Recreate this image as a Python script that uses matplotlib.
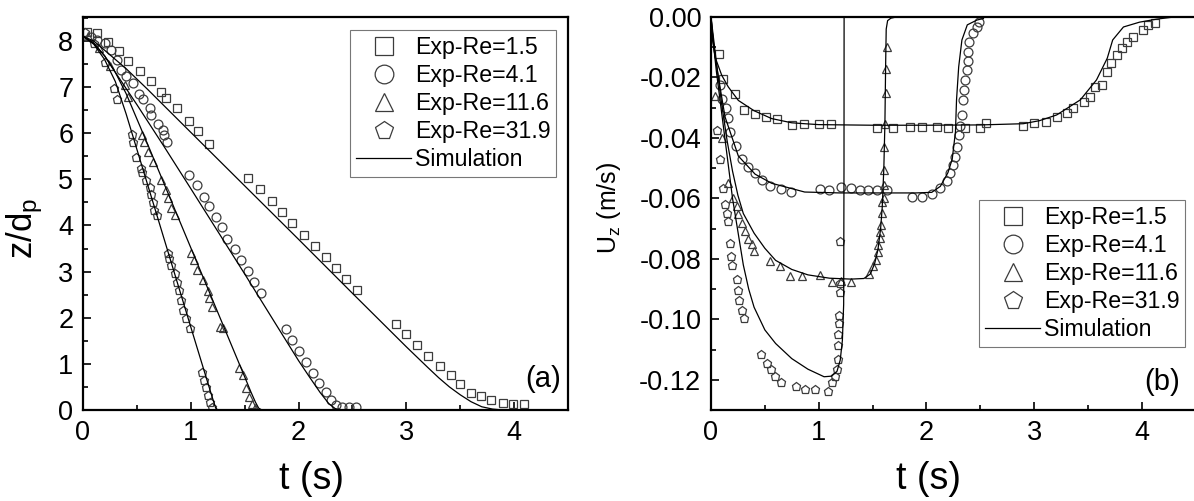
import matplotlib
matplotlib.use("Agg")
import matplotlib.pyplot as plt
from matplotlib.ticker import MultipleLocator

plt.rcParams['font.family'] = ['Liberation Sans', 'DejaVu Sans']
plt.rcParams['mathtext.fontset'] = 'custom'
plt.rcParams['mathtext.rm'] = 'Liberation Sans'
plt.rcParams['mathtext.it'] = 'Liberation Sans:italic'

labels = ["Exp-Re=1.5", "Exp-Re=4.1", "Exp-Re=11.6", "Exp-Re=31.9"]
sim_label = "Simulation"

# ---------- panel (a): z/dp vs t ----------
sq_t = [0.04,0.13,0.23,0.33,0.42,0.53,0.63,0.72,0.77,0.87,0.98,1.07,1.17,1.53,1.64,1.75,1.85,1.94,2.05,2.15,2.25,2.35,2.44,2.54,2.90,3.00,3.10,3.20,3.31,3.41,3.50,3.60,3.69,3.79,3.90,3.99,4.09]
sq_z = [8.20,8.18,7.98,7.79,7.57,7.35,7.14,6.90,6.77,6.55,6.27,6.05,5.77,5.03,4.79,4.53,4.30,4.06,3.80,3.56,3.32,3.08,2.84,2.60,1.87,1.65,1.41,1.17,0.95,0.76,0.56,0.37,0.30,0.22,0.15,0.13,0.13]

ci_t = [0.07,0.13,0.20,0.26,0.32,0.35,0.40,0.46,0.52,0.56,0.62,0.63,0.70,0.74,0.75,0.78,0.98,1.06,1.12,1.17,1.23,1.29,1.34,1.41,1.47,1.53,1.59,1.65,1.88,1.94,2.00,2.07,2.13,2.19,2.25,2.30,2.35,2.40,2.47,2.53]
ci_z = [8.08,8.03,7.96,7.80,7.59,7.37,7.24,7.08,6.86,6.75,6.54,6.39,6.20,6.07,5.96,5.81,5.09,4.87,4.62,4.42,4.19,3.96,3.70,3.48,3.25,3.02,2.78,2.54,1.75,1.52,1.27,1.03,0.81,0.58,0.38,0.22,0.11,0.07,0.07,0.07]

tr_t = [0.05,0.15,0.25,0.39,0.42,0.55,0.57,0.60,0.65,0.72,0.77,0.79,0.82,0.85,1.00,1.03,1.06,1.11,1.16,1.17,1.20,1.27,1.30,1.45,1.48,1.51,1.54,1.57,1.60]
tr_z = [8.10,7.85,7.45,7.05,6.79,5.96,5.81,5.60,5.38,4.98,4.77,4.59,4.37,4.22,3.40,3.25,3.04,2.82,2.57,2.42,2.24,1.81,1.77,0.90,0.76,0.47,0.29,0.14,0.04]

pe_t = [0.02,0.10,0.20,0.29,0.32,0.45,0.46,0.49,0.54,0.55,0.58,0.62,0.63,0.65,0.66,0.69,0.79,0.80,0.82,0.85,0.87,0.89,0.91,0.93,0.96,0.99,1.10,1.12,1.14,1.16,1.18,1.20]
pe_z = [8.20,7.95,7.55,6.97,6.75,5.99,5.81,5.49,5.24,5.16,4.98,4.84,4.69,4.51,4.33,4.22,3.40,3.29,3.15,2.96,2.78,2.60,2.39,2.17,1.99,1.77,0.83,0.65,0.50,0.32,0.18,0.06]

sim_sq_t = [0.0,0.1,0.2,0.4,0.6,1.0,1.5,2.0,2.5,3.0,3.2,3.3,3.4,3.5,3.6,3.7,3.8,3.9,4.1]
sim_sq_z = [8.1,8.0,7.8,7.4,6.95,6.02,4.86,3.70,2.53,1.37,0.92,0.70,0.50,0.33,0.18,0.07,0.02,0.0,0.0]
sim_ci_t = [0.0,0.1,0.2,0.3,0.5,0.75,1.0,1.5,1.8,2.0,2.1,2.2,2.28,2.34,2.4]
sim_ci_z = [8.1,7.95,7.68,7.32,6.62,5.72,4.80,2.95,1.82,1.07,0.72,0.38,0.14,0.03,0.0]
sim_tr_t = [0.0,0.1,0.2,0.3,0.4,0.6,0.88,1.2,1.4,1.5,1.56,1.6,1.63,1.66]
sim_tr_z = [8.1,7.95,7.68,7.32,6.86,5.76,4.19,2.40,1.28,0.72,0.38,0.17,0.04,0.0]
sim_pe_t = [0.0,0.1,0.2,0.3,0.4,0.69,1.0,1.15,1.2,1.23,1.25]
sim_pe_z = [8.1,7.93,7.6,7.12,6.42,4.19,1.80,0.65,0.27,0.05,0.0]

# ---------- panel (b): Uz vs t ----------
squ_t = [0.07,0.11,0.22,0.31,0.41,0.51,0.61,0.75,0.86,1.00,1.11,1.54,1.69,1.85,1.96,2.10,2.20,2.36,2.50,2.55,2.90,3.00,3.11,3.21,3.31,3.36,3.46,3.52,3.57,3.63,3.68,3.71,3.77,3.82,3.86,3.92,4.01,4.06,4.12]
squ_u = [-0.0121,-0.0204,-0.0256,-0.0306,-0.0320,-0.0330,-0.0336,-0.0356,-0.0355,-0.0353,-0.0355,-0.0367,-0.0367,-0.0363,-0.0363,-0.0363,-0.0367,-0.0367,-0.0367,-0.0350,-0.0360,-0.0350,-0.0347,-0.0331,-0.0317,-0.0301,-0.0281,-0.0264,-0.0231,-0.0225,-0.0182,-0.0152,-0.0126,-0.0103,-0.0083,-0.0066,-0.0043,-0.0026,-0.0020]

ciu_t = [0.08,0.10,0.14,0.16,0.18,0.23,0.29,0.34,0.41,0.47,0.55,0.65,0.74,1.01,1.10,1.21,1.30,1.38,1.46,1.54,1.63,1.87,1.96,2.05,2.13,2.19,2.22,2.25,2.27,2.28,2.30,2.31,2.33,2.34,2.35,2.36,2.38,2.39,2.39,2.40,2.43,2.47,2.49]
ciu_u = [-0.0225,-0.0270,-0.0300,-0.0334,-0.0380,-0.0426,-0.0470,-0.0496,-0.0516,-0.0540,-0.0559,-0.0569,-0.0579,-0.0569,-0.0572,-0.0562,-0.0565,-0.0572,-0.0572,-0.0572,-0.0572,-0.0595,-0.0595,-0.0585,-0.0565,-0.0542,-0.0516,-0.0490,-0.0463,-0.0430,-0.0390,-0.0360,-0.0324,-0.0274,-0.0240,-0.0208,-0.0175,-0.0145,-0.0116,-0.0083,-0.0053,-0.0033,-0.0017]

tru_t = [0.04,0.10,0.16,0.207,0.238,0.254,0.285,0.316,0.34,0.378,0.402,0.548,0.64,0.734,0.842,1.012,1.12,1.207,1.30,1.467,1.507,1.529,1.547,1.553,1.569,1.572,1.578,1.584,1.588,1.604,1.606,1.606,1.606,1.616,1.622,1.622,1.631]
tru_u = [-0.0260,-0.0400,-0.0550,-0.0600,-0.0624,-0.0652,-0.0680,-0.0708,-0.0736,-0.0752,-0.0774,-0.0808,-0.0824,-0.0856,-0.0858,-0.0852,-0.0878,-0.0874,-0.0878,-0.0849,-0.0825,-0.0803,-0.0779,-0.0754,-0.0732,-0.0710,-0.0688,-0.0649,-0.0611,-0.0600,-0.0555,-0.0507,-0.0430,-0.0353,-0.0253,-0.0171,-0.0099]

peu_t = [0.06,0.08,0.11,0.13,0.145,0.161,0.176,0.186,0.198,0.238,0.247,0.26,0.285,0.31,0.464,0.517,0.557,0.594,0.65,0.786,0.873,0.966,1.09,1.127,1.151,1.167,1.176,1.176,1.182,1.188,1.191,1.198,1.20,1.20]
peu_u = [-0.0375,-0.0470,-0.0565,-0.0619,-0.0647,-0.0674,-0.0747,-0.0791,-0.0819,-0.0867,-0.0904,-0.0936,-0.0969,-0.0997,-0.1116,-0.1143,-0.1163,-0.1188,-0.1208,-0.1219,-0.1230,-0.1230,-0.1236,-0.1208,-0.1186,-0.1163,-0.1130,-0.1086,-0.1047,-0.1013,-0.0986,-0.0911,-0.0880,-0.0741]

simu_sq_t = [0.0,0.01,0.037,0.1,0.16,0.254,0.4,0.563,0.75,0.87,1.0,1.5,2.0,2.5,2.9,3.05,3.21,3.43,3.58,3.68,3.73,3.83,3.98,4.14,4.3]
simu_sq_u = [0.0,-0.004,-0.0132,-0.0193,-0.0231,-0.0276,-0.031,-0.0336,-0.035,-0.0353,-0.0356,-0.0358,-0.0358,-0.0357,-0.0353,-0.0343,-0.0324,-0.0274,-0.0208,-0.0136,-0.0076,-0.0033,-0.0017,-0.0007,0.0]
simu_ci_t = [0.0,0.005,0.068,0.13,0.254,0.41,0.563,0.87,1.2,1.9,2.05,2.13,2.2,2.24,2.27,2.28,2.30,2.33,2.38,2.47,2.53]
simu_ci_u = [0.0,-0.0055,-0.0198,-0.033,-0.046,-0.052,-0.055,-0.0579,-0.0582,-0.0582,-0.058,-0.056,-0.0515,-0.047,-0.038,-0.0274,-0.0165,-0.0076,-0.0026,-0.001,-0.0005]
simu_tr_t = [0.0,0.05,0.1,0.15,0.2,0.25,0.3,0.4,0.5,0.6,0.75,0.9,1.1,1.3,1.42,1.48,1.52,1.55,1.575,1.59,1.605,1.615,1.622,1.627,1.64,1.67,1.72]
simu_tr_u = [0.0,-0.015,-0.029,-0.041,-0.051,-0.059,-0.065,-0.0715,-0.0765,-0.0805,-0.0835,-0.0853,-0.0864,-0.0867,-0.0865,-0.085,-0.0815,-0.077,-0.070,-0.063,-0.050,-0.035,-0.015,-0.004,-0.0012,-0.0004,0.0]
simu_pe_t = [0.0,0.02,0.05,0.1,0.15,0.2,0.25,0.3,0.35,0.4,0.5,0.6,0.75,0.9,1.05,1.12,1.17,1.2,1.22,1.232,1.235,1.236]
simu_pe_u = [0.0,-0.008,-0.018,-0.032,-0.046,-0.06,-0.071,-0.082,-0.09,-0.096,-0.1035,-0.108,-0.113,-0.1165,-0.119,-0.1188,-0.1172,-0.1135,-0.107,-0.095,-0.05,0.0]

markers = ['s', 'o', '^', 'p']
mk_kw = dict(linestyle='none', mfc='none', mec='#3c3c3c', ms=6.4, mew=0.9)
line_kw = dict(color='black', lw=0.9)

fig = plt.figure(figsize=(11.94, 5.01), dpi=100)
axA = fig.add_axes([83/1194, 91/501, 485/1194, 393/501])
axB = fig.add_axes([711/1194, 91/501, 484.6/1194, 393/501])

def style(ax):
    for s in ax.spines.values():
        s.set_linewidth(1.6)
    ax.tick_params(which='both', direction='in', top=False, right=False, labelsize=19.5, width=1.2)
    ax.tick_params(which='major', length=6, pad=7)
    ax.tick_params(which='minor', length=3.5)
    ax.xaxis.set_major_locator(MultipleLocator(1))
    ax.xaxis.set_minor_locator(MultipleLocator(0.5))
    ax.set_xlim(0, 4.5)

# panel a
expA = [(sq_t, sq_z), (ci_t, ci_z), (tr_t, tr_z), (pe_t, pe_z)]
simA = [(sim_sq_t, sim_sq_z), (sim_ci_t, sim_ci_z), (sim_tr_t, sim_tr_z), (sim_pe_t, sim_pe_z)]
for (tx, zy), m, lab in zip(expA, markers, labels):
    axA.plot(tx, zy, marker=m, label=lab, **mk_kw)
for i, (tx, zy) in enumerate(simA):
    axA.plot(tx, zy, label=sim_label if i == 0 else None, **line_kw)
style(axA)
axA.set_ylim(0, 8.52)
axA.yaxis.set_major_locator(MultipleLocator(1))
axA.yaxis.set_minor_locator(MultipleLocator(0.5))
axA.set_xlabel('t (s)', fontsize=27)
axA.xaxis.set_label_coords(0.471, -0.13, transform=axA.transAxes)
axA.set_ylabel(r'z/d$_{\rm p}$', fontsize=25)
axA.yaxis.set_label_coords(-0.078, 0.463)
axA.text(0.985, 0.08, '(a)', transform=axA.transAxes, fontsize=21, ha='right', va='center')

# panel b
expB = [(squ_t, squ_u), (ciu_t, ciu_u), (tru_t, tru_u), (peu_t, peu_u)]
simB = [(simu_sq_t, simu_sq_u), (simu_ci_t, simu_ci_u), (simu_tr_t, simu_tr_u), (simu_pe_t, simu_pe_u)]
for (tx, uy), m, lab in zip(expB, markers, labels):
    axB.plot(tx, uy, marker=m, label=lab, **mk_kw)
for i, (tx, uy) in enumerate(simB):
    axB.plot(tx, uy, label=sim_label if i == 0 else None, **line_kw)
style(axB)
axB.set_ylim(-0.13, 0.0)
axB.yaxis.set_major_locator(MultipleLocator(0.02))
axB.yaxis.set_minor_locator(MultipleLocator(0.01))
axB.yaxis.set_major_formatter(matplotlib.ticker.FormatStrFormatter('%.2f'))
axB.set_xlabel('t (s)', fontsize=27)
axB.xaxis.set_label_coords(0.448, -0.13, transform=axB.transAxes)
axB.set_ylabel(r'U$_{\rm z}$ (m/s)', fontsize=18)
axB.yaxis.set_label_coords(-0.182, 0.515)
axB.text((1180-711)/484.6, (410-382)/393, '(b)', transform=axB.transAxes, fontsize=21, ha='right', va='center')

leg_kw = dict(fontsize=16.7, markerscale=2.1, handlelength=2.4, handletextpad=0.15,
              borderpad=0.25, labelspacing=0.22, frameon=True, fancybox=False,
              edgecolor='#555555', borderaxespad=0)
legA = axA.legend(loc='upper left', bbox_to_anchor=(350/1194, 1-30/501),
                  bbox_transform=fig.transFigure, **leg_kw)
legA.get_frame().set_linewidth(0.8)
legB = axB.legend(loc='upper left', bbox_to_anchor=(979/1194, 1-200/501),
                  bbox_transform=fig.transFigure, **leg_kw)
legB.get_frame().set_linewidth(0.8)

fig.savefig('out.png', dpi=100)
